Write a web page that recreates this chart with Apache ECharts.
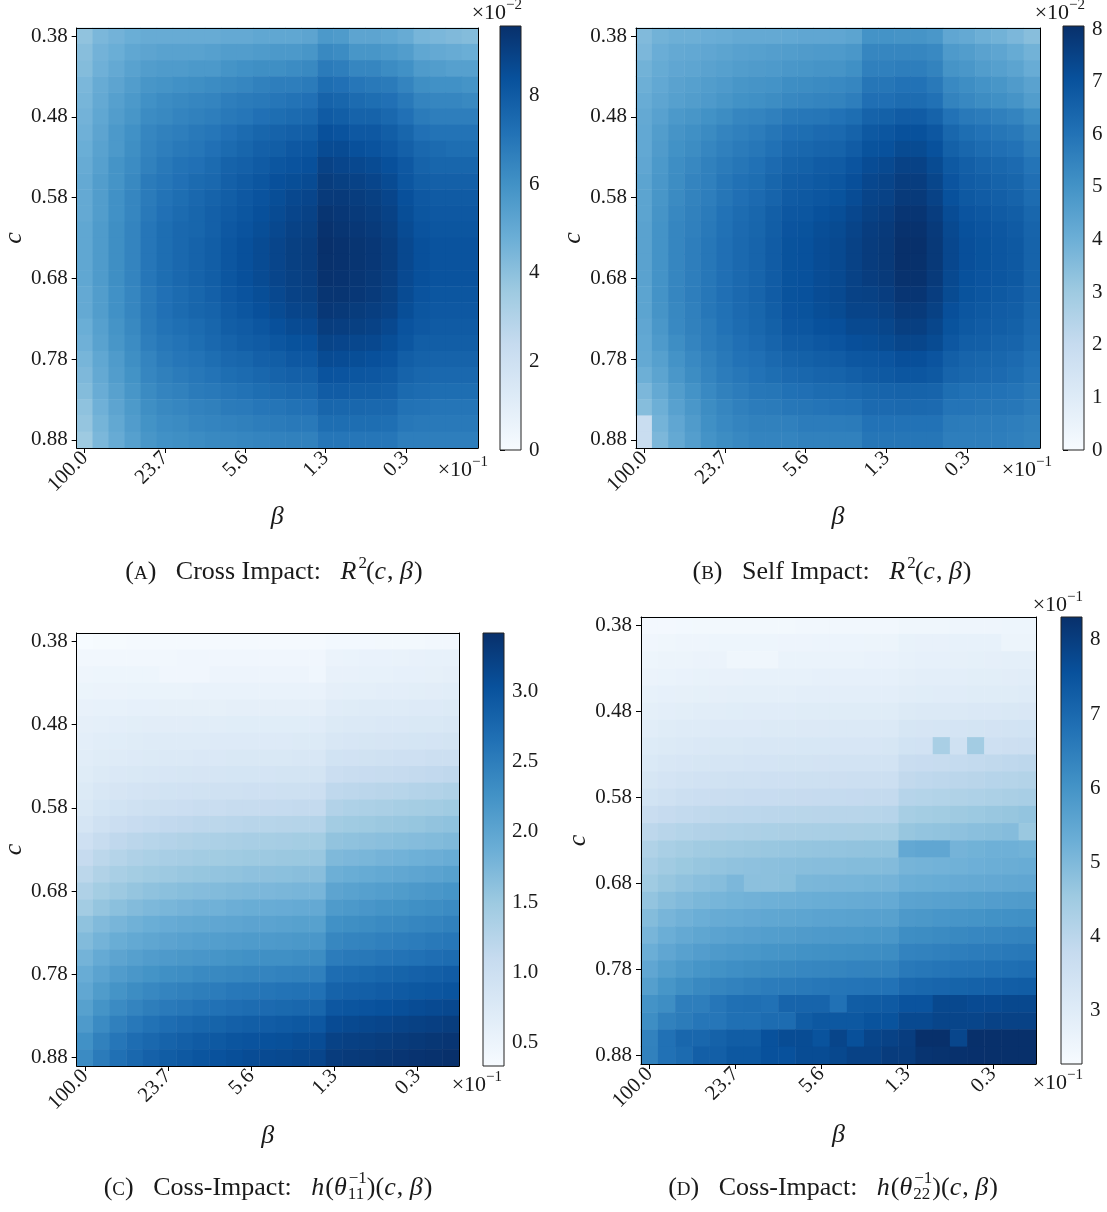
<!DOCTYPE html>
<html><head><meta charset="utf-8">
<script src="https://cdn.jsdelivr.net/npm/echarts@6/dist/echarts.min.js"></script>
<style>html,body{margin:0;padding:0;background:#fff}#c{width:1107px;height:1212px}</style>
</head><body><div id="c"></div>
<script>
// ---- tick labels ----
const cLabels = ['0.38','0.40','0.42','0.44','0.46','0.48','0.50','0.52','0.54','0.56','0.58','0.60','0.62','0.64','0.66','0.68','0.70','0.72','0.74','0.76','0.78','0.80','0.82','0.84','0.86','0.88'];
const betaTickLabels = ['100.0','23.7','5.6','1.3','0.3'];   // ×10^-1, one every 5 columns
const cbTicksA = [0,2,4,6,8];
const cbTicksB = [0,1,2,3,4,5,6,7,8];
const cbTicksC = [0.5,1.0,1.5,2.0,2.5,3.0];
const cbTicksD = [3,4,5,6,7,8];

// ---- (A) Cross Impact R^2(c,beta)  [x10^-2], rows c=0.38..0.88, cols beta ----
const crossR2 = [
[3.9,4.4,4.6,4.8,4.9,4.9,4.9,4.9,4.9,5.0,5.0,5.1,5.1,5.1,5.2,5.7,5.6,5.2,5.2,5.1,4.9,4.5,4.4,4.3,4.2],
[4.1,4.6,4.8,5.1,5.2,5.3,5.3,5.3,5.4,5.5,5.5,5.6,5.7,5.7,5.8,6.3,6.2,5.8,5.8,5.7,5.5,5.1,5.0,4.9,4.8],
[4.2,4.7,5.0,5.3,5.5,5.6,5.6,5.7,5.7,5.9,6.0,6.1,6.1,6.2,6.3,6.8,6.7,6.4,6.4,6.2,6.0,5.6,5.5,5.4,5.4],
[4.4,4.9,5.2,5.5,5.8,5.9,6.0,6.1,6.2,6.3,6.4,6.6,6.7,6.7,6.8,7.3,7.2,7.0,6.9,6.8,6.5,6.1,6.0,6.0,5.9],
[4.5,5.0,5.4,5.7,6.0,6.2,6.3,6.4,6.5,6.7,6.8,6.9,7.0,7.1,7.2,7.7,7.6,7.4,7.3,7.2,6.9,6.5,6.4,6.4,6.3],
[4.6,5.1,5.5,5.8,6.2,6.3,6.5,6.6,6.7,6.9,7.0,7.2,7.3,7.4,7.5,8.0,7.9,7.7,7.7,7.5,7.2,6.8,6.7,6.7,6.7],
[4.7,5.2,5.7,6.0,6.4,6.6,6.7,6.9,7.0,7.2,7.4,7.6,7.7,7.8,7.9,8.4,8.3,8.1,8.1,7.9,7.6,7.2,7.1,7.1,7.1],
[4.8,5.3,5.7,6.1,6.5,6.7,6.9,7.0,7.2,7.4,7.6,7.8,7.9,8.1,8.2,8.6,8.6,8.4,8.3,8.1,7.8,7.5,7.4,7.3,7.3],
[4.9,5.4,5.9,6.2,6.6,6.9,7.1,7.2,7.4,7.7,7.8,8.0,8.2,8.3,8.4,8.9,8.8,8.7,8.6,8.4,8.1,7.7,7.6,7.6,7.6],
[5.0,5.5,5.9,6.3,6.8,7.0,7.2,7.4,7.5,7.8,8.0,8.2,8.4,8.5,8.6,9.1,9.0,8.9,8.8,8.6,8.2,7.9,7.8,7.8,7.8],
[5.0,5.5,6.0,6.4,6.8,7.1,7.3,7.5,7.7,7.9,8.1,8.3,8.5,8.7,8.8,9.2,9.2,9.1,9.0,8.8,8.4,8.1,8.0,8.0,8.0],
[5.0,5.5,6.0,6.4,6.9,7.2,7.4,7.6,7.8,8.0,8.2,8.4,8.6,8.8,8.9,9.4,9.3,9.2,9.1,8.9,8.5,8.2,8.1,8.1,8.1],
[5.1,5.6,6.1,6.5,7.0,7.3,7.5,7.6,7.8,8.1,8.3,8.5,8.7,8.9,9.0,9.5,9.4,9.3,9.2,9.0,8.6,8.3,8.2,8.2,8.2],
[5.1,5.6,6.1,6.5,7.0,7.3,7.5,7.7,7.9,8.2,8.4,8.6,8.8,9.0,9.1,9.57,9.5,9.4,9.3,9.1,8.7,8.4,8.3,8.3,8.3],
[5.1,5.6,6.1,6.5,7.0,7.3,7.5,7.7,7.9,8.2,8.4,8.6,8.8,9.0,9.1,9.55,9.5,9.4,9.3,9.1,8.7,8.4,8.3,8.3,8.3],
[5.1,5.6,6.1,6.5,7.0,7.3,7.5,7.7,7.9,8.2,8.4,8.6,8.8,8.95,9.05,9.5,9.45,9.35,9.25,9.05,8.65,8.4,8.3,8.3,8.3],
[5.0,5.5,6.0,6.4,6.9,7.2,7.4,7.6,7.8,8.1,8.3,8.5,8.7,8.9,9.0,9.4,9.4,9.3,9.2,9.0,8.6,8.3,8.2,8.2,8.2],
[5.0,5.5,6.0,6.4,6.9,7.2,7.4,7.6,7.7,8.0,8.2,8.4,8.6,8.8,8.85,9.3,9.25,9.15,9.05,8.9,8.5,8.2,8.1,8.1,8.1],
[4.8,5.4,5.9,6.3,6.8,7.1,7.25,7.4,7.6,7.9,8.0,8.2,8.4,8.6,8.65,9.1,9.05,9.0,8.9,8.7,8.3,8.1,8.0,8.0,8.0],
[4.7,5.3,5.8,6.2,6.7,6.95,7.1,7.3,7.5,7.7,7.9,8.0,8.2,8.35,8.4,8.85,8.8,8.75,8.7,8.5,8.2,7.9,7.9,7.9,7.9],
[4.5,5.1,5.6,6.1,6.5,6.8,7.0,7.1,7.3,7.5,7.6,7.8,7.9,8.1,8.15,8.6,8.55,8.5,8.4,8.3,7.9,7.75,7.7,7.7,7.7],
[4.35,5.0,5.5,5.95,6.4,6.65,6.8,6.95,7.1,7.3,7.4,7.55,7.7,7.8,7.85,8.3,8.25,8.2,8.15,8.05,7.7,7.55,7.5,7.5,7.5],
[4.2,4.85,5.35,5.8,6.25,6.5,6.6,6.8,6.9,7.05,7.15,7.3,7.4,7.5,7.55,7.95,7.95,7.9,7.9,7.8,7.45,7.35,7.3,7.3,7.3],
[3.95,4.7,5.2,5.65,6.1,6.3,6.4,6.55,6.65,6.8,6.85,7.0,7.05,7.15,7.2,7.6,7.55,7.55,7.5,7.5,7.15,7.1,7.05,7.05,7.05],
[3.8,4.55,5.05,5.55,5.95,6.15,6.25,6.4,6.5,6.55,6.65,6.75,6.8,6.9,6.9,7.3,7.3,7.3,7.3,7.25,6.95,6.9,6.9,6.9,6.9],
[3.6,4.4,4.9,5.4,5.8,6.0,6.1,6.2,6.3,6.35,6.4,6.5,6.55,6.6,6.6,7.0,7.0,7.0,7.0,7.0,6.7,6.7,6.7,6.7,6.7]
];

// ---- (B) Self Impact R^2(c,beta)  [x10^-2] ----
const selfR2 = [
[3.6,3.9,4.0,4.0,4.05,4.1,4.2,4.2,4.2,4.25,4.3,4.3,4.3,4.4,5.0,5.0,4.95,4.95,4.85,4.3,4.2,4.0,3.9,3.7,3.45],
[3.7,4.05,4.2,4.25,4.3,4.4,4.5,4.55,4.6,4.65,4.7,4.75,4.75,4.85,5.4,5.4,5.4,5.4,5.3,4.75,4.65,4.45,4.35,4.15,3.9],
[3.9,4.15,4.3,4.35,4.45,4.55,4.65,4.7,4.75,4.85,4.9,4.95,4.95,5.1,5.6,5.6,5.65,5.65,5.5,4.95,4.85,4.65,4.55,4.4,4.1],
[4.0,4.25,4.45,4.55,4.65,4.75,4.9,4.95,5.0,5.15,5.2,5.25,5.3,5.4,5.9,5.9,6.0,6.0,5.8,5.3,5.15,5.0,4.9,4.7,4.45],
[4.1,4.35,4.55,4.65,4.75,4.9,5.05,5.1,5.2,5.35,5.4,5.45,5.5,5.65,6.1,6.1,6.2,6.2,6.05,5.5,5.35,5.2,5.1,4.95,4.65],
[4.2,4.5,4.8,4.9,5.05,5.2,5.4,5.45,5.6,5.8,5.85,5.9,6.0,6.15,6.5,6.55,6.7,6.7,6.5,6.0,5.8,5.7,5.6,5.45,5.15],
[4.25,4.65,4.95,5.1,5.25,5.45,5.6,5.7,5.9,6.1,6.15,6.25,6.3,6.5,6.8,6.9,7.05,7.05,6.85,6.35,6.15,6.0,5.9,5.8,5.5],
[4.25,4.7,5.05,5.2,5.4,5.6,5.75,5.85,6.05,6.3,6.35,6.45,6.5,6.7,7.0,7.05,7.25,7.25,7.05,6.55,6.35,6.2,6.1,6.0,5.7],
[4.3,4.8,5.15,5.35,5.55,5.75,5.9,6.05,6.25,6.5,6.55,6.7,6.75,6.95,7.2,7.3,7.5,7.5,7.25,6.8,6.6,6.45,6.35,6.25,5.95],
[4.4,4.85,5.2,5.45,5.6,5.85,6.05,6.15,6.4,6.65,6.7,6.8,6.9,7.1,7.35,7.45,7.65,7.65,7.4,6.95,6.7,6.6,6.5,6.4,6.1],
[4.4,4.9,5.25,5.5,5.65,5.9,6.1,6.25,6.45,6.75,6.8,6.9,7.0,7.2,7.45,7.5,7.75,7.75,7.5,7.05,6.8,6.7,6.6,6.5,6.2],
[4.4,4.95,5.35,5.55,5.75,6.0,6.2,6.35,6.6,6.85,6.9,7.05,7.15,7.35,7.55,7.65,7.9,7.9,7.65,7.2,6.95,6.85,6.75,6.65,6.35],
[4.45,5.0,5.4,5.6,5.8,6.05,6.25,6.4,6.65,6.95,7.0,7.15,7.25,7.45,7.65,7.75,8.0,8.0,7.75,7.3,7.05,6.95,6.85,6.75,6.45],
[4.45,5.0,5.4,5.65,5.85,6.1,6.3,6.45,6.7,7.0,7.05,7.2,7.3,7.5,7.7,7.8,8.05,8.05,7.8,7.35,7.1,7.0,6.9,6.8,6.5],
[4.45,5.0,5.4,5.65,5.85,6.1,6.3,6.45,6.7,7.0,7.05,7.2,7.3,7.5,7.7,7.8,8.05,8.04,7.8,7.35,7.1,7.0,6.9,6.8,6.5],
[4.45,5.0,5.4,5.65,5.85,6.1,6.3,6.45,6.7,7.0,7.05,7.2,7.3,7.5,7.65,7.75,8.0,8.0,7.75,7.3,7.05,6.95,6.9,6.8,6.5],
[4.4,5.0,5.4,5.65,5.85,6.1,6.3,6.45,6.7,7.0,7.05,7.2,7.3,7.5,7.55,7.65,7.9,7.9,7.65,7.25,7.0,6.9,6.8,6.7,6.45],
[4.4,4.95,5.35,5.6,5.85,6.05,6.25,6.4,6.65,6.95,7.0,7.15,7.25,7.45,7.45,7.55,7.75,7.75,7.55,7.1,6.9,6.8,6.7,6.65,6.35],
[4.3,4.85,5.3,5.55,5.75,6.0,6.2,6.35,6.55,6.85,6.9,7.05,7.1,7.3,7.3,7.4,7.6,7.6,7.4,7.0,6.8,6.7,6.65,6.55,6.3],
[4.25,4.75,5.15,5.45,5.7,5.9,6.1,6.25,6.45,6.7,6.75,6.85,6.95,7.1,7.15,7.25,7.4,7.4,7.25,6.85,6.65,6.6,6.5,6.45,6.2],
[4.2,4.55,5.0,5.3,5.55,5.8,6.0,6.1,6.3,6.5,6.55,6.65,6.7,6.85,6.9,6.95,7.1,7.1,6.95,6.6,6.45,6.4,6.35,6.25,6.05],
[4.0,4.4,4.85,5.2,5.45,5.7,5.85,6.0,6.15,6.3,6.35,6.45,6.5,6.6,6.75,6.8,6.9,6.9,6.8,6.45,6.35,6.3,6.25,6.15,5.95],
[3.7,4.2,4.65,5.0,5.3,5.55,5.7,5.85,5.9,6.05,6.1,6.2,6.2,6.3,6.4,6.45,6.5,6.5,6.45,6.15,6.05,6.05,6.0,5.95,5.8],
[3.5,4.0,4.5,4.85,5.2,5.4,5.6,5.7,5.75,5.85,5.9,5.95,6.0,6.05,6.25,6.25,6.3,6.3,6.25,5.95,5.95,5.9,5.9,5.85,5.7],
[1.9,3.85,4.3,4.7,5.1,5.3,5.45,5.55,5.55,5.6,5.7,5.7,5.7,5.75,6.0,6.0,6.0,6.0,6.0,5.75,5.7,5.7,5.7,5.65,5.55],
[1.9,3.7,4.2,4.6,5.0,5.2,5.35,5.45,5.45,5.45,5.55,5.55,5.55,5.55,5.9,5.9,5.9,5.9,5.9,5.65,5.65,5.65,5.65,5.6,5.5]
];

// ---- (C) h(theta_11^-1)(c,beta) ----
const hTheta11 = [
[0.34,0.36,0.36,0.37,0.37,0.37,0.37,0.37,0.37,0.37,0.37,0.37,0.37,0.37,0.37,0.40,0.40,0.40,0.41,0.41,0.41,0.42,0.42],
[0.42,0.43,0.43,0.43,0.43,0.43,0.44,0.44,0.44,0.44,0.44,0.44,0.44,0.44,0.44,0.52,0.53,0.54,0.54,0.55,0.56,0.57,0.58],
[0.47,0.48,0.48,0.48,0.48,0.44,0.44,0.44,0.49,0.49,0.49,0.49,0.49,0.49,0.45,0.56,0.56,0.57,0.58,0.59,0.59,0.60,0.61],
[0.51,0.52,0.52,0.53,0.53,0.53,0.53,0.54,0.54,0.54,0.54,0.54,0.54,0.54,0.54,0.61,0.62,0.63,0.64,0.64,0.65,0.66,0.67],
[0.56,0.57,0.58,0.59,0.59,0.60,0.60,0.60,0.60,0.61,0.61,0.61,0.61,0.61,0.61,0.69,0.70,0.71,0.71,0.72,0.73,0.74,0.75],
[0.61,0.63,0.64,0.65,0.66,0.66,0.66,0.67,0.67,0.68,0.68,0.68,0.68,0.68,0.69,0.75,0.76,0.77,0.78,0.78,0.79,0.80,0.81],
[0.64,0.67,0.68,0.70,0.71,0.71,0.72,0.72,0.73,0.73,0.74,0.74,0.74,0.75,0.75,0.82,0.83,0.84,0.85,0.86,0.87,0.88,0.89],
[0.67,0.70,0.72,0.74,0.75,0.76,0.77,0.78,0.78,0.79,0.80,0.80,0.80,0.81,0.81,0.92,0.93,0.94,0.96,0.97,0.98,1.00,1.01],
[0.70,0.75,0.78,0.80,0.82,0.83,0.84,0.85,0.86,0.87,0.87,0.88,0.89,0.89,0.89,1.03,1.05,1.07,1.09,1.10,1.12,1.14,1.16],
[0.75,0.81,0.85,0.88,0.90,0.92,0.93,0.94,0.95,0.96,0.97,0.98,0.99,0.99,1.00,1.17,1.19,1.21,1.23,1.25,1.28,1.30,1.32],
[0.79,0.87,0.92,0.96,0.99,1.01,1.03,1.05,1.06,1.08,1.09,1.10,1.11,1.12,1.12,1.30,1.33,1.35,1.37,1.40,1.42,1.44,1.47],
[0.86,0.96,1.02,1.07,1.11,1.14,1.16,1.19,1.20,1.22,1.24,1.25,1.26,1.27,1.28,1.44,1.47,1.49,1.51,1.53,1.55,1.58,1.60],
[0.98,1.09,1.16,1.21,1.25,1.28,1.31,1.33,1.35,1.37,1.39,1.40,1.41,1.43,1.43,1.58,1.60,1.62,1.64,1.66,1.68,1.70,1.72],
[1.10,1.20,1.27,1.32,1.36,1.39,1.41,1.44,1.45,1.47,1.49,1.50,1.51,1.52,1.53,1.72,1.75,1.77,1.80,1.82,1.85,1.87,1.90],
[1.20,1.31,1.38,1.43,1.47,1.50,1.53,1.55,1.57,1.59,1.61,1.62,1.63,1.65,1.65,1.86,1.89,1.92,1.95,1.97,2.00,2.03,2.06],
[1.32,1.43,1.50,1.56,1.60,1.63,1.66,1.68,1.70,1.72,1.74,1.75,1.76,1.78,1.78,2.01,2.04,2.07,2.10,2.13,2.16,2.19,2.22],
[1.44,1.56,1.63,1.69,1.74,1.77,1.80,1.83,1.84,1.87,1.89,1.90,1.91,1.93,1.94,2.14,2.17,2.20,2.23,2.25,2.28,2.31,2.34],
[1.60,1.71,1.78,1.84,1.88,1.91,1.94,1.96,1.98,2.00,2.02,2.03,2.04,2.06,2.06,2.27,2.30,2.32,2.35,2.37,2.40,2.43,2.46],
[1.70,1.81,1.89,1.95,1.99,2.02,2.05,2.08,2.10,2.12,2.14,2.15,2.16,2.18,2.19,2.39,2.42,2.44,2.47,2.49,2.52,2.55,2.58],
[1.81,1.93,2.01,2.07,2.12,2.15,2.18,2.20,2.22,2.25,2.27,2.28,2.29,2.31,2.32,2.52,2.55,2.57,2.60,2.62,2.65,2.68,2.71],
[1.90,2.03,2.12,2.19,2.24,2.28,2.31,2.35,2.37,2.39,2.41,2.43,2.45,2.46,2.47,2.69,2.72,2.75,2.78,2.81,2.84,2.87,2.90],
[1.97,2.13,2.23,2.32,2.38,2.42,2.46,2.50,2.52,2.56,2.58,2.60,2.62,2.64,2.65,2.82,2.85,2.87,2.90,2.92,2.95,2.97,3.00],
[2.06,2.23,2.34,2.43,2.50,2.54,2.58,2.62,2.65,2.68,2.71,2.73,2.75,2.77,2.78,2.96,2.98,3.01,3.03,3.06,3.09,3.11,3.14],
[2.15,2.34,2.47,2.56,2.64,2.69,2.74,2.78,2.81,2.85,2.88,2.90,2.92,2.95,2.96,3.10,3.13,3.15,3.17,3.20,3.22,3.24,3.27],
[2.27,2.46,2.59,2.69,2.76,2.82,2.86,2.91,2.94,2.98,3.01,3.03,3.05,3.08,3.09,3.21,3.23,3.25,3.27,3.29,3.32,3.34,3.36],
[2.34,2.53,2.66,2.76,2.84,2.89,2.94,2.99,3.02,3.06,3.09,3.11,3.13,3.15,3.17,3.28,3.30,3.32,3.34,3.36,3.38,3.40,3.42]
];

// ---- (D) h(theta_22^-1)(c,beta)  [x10^-1] ----
const hTheta22 = [
[2.40,2.41,2.42,2.43,2.43,2.44,2.44,2.44,2.44,2.45,2.45,2.45,2.45,2.45,2.45,2.52,2.53,2.53,2.54,2.55,2.56,2.57,2.58],
[2.50,2.53,2.54,2.56,2.57,2.57,2.58,2.58,2.59,2.59,2.60,2.60,2.60,2.61,2.61,2.72,2.73,2.74,2.75,2.76,2.76,2.62,2.62],
[2.58,2.61,2.62,2.64,2.65,2.52,2.52,2.52,2.67,2.67,2.68,2.68,2.68,2.69,2.69,2.77,2.78,2.79,2.80,2.82,2.83,2.84,2.85],
[2.65,2.68,2.70,2.72,2.73,2.74,2.75,2.76,2.76,2.77,2.78,2.78,2.78,2.79,2.79,2.86,2.87,2.88,2.89,2.90,2.91,2.92,2.93],
[2.75,2.78,2.80,2.82,2.83,2.84,2.85,2.86,2.86,2.87,2.88,2.88,2.88,2.89,2.89,2.95,2.96,2.97,2.98,2.99,3.00,3.01,3.02],
[2.85,2.89,2.91,2.93,2.95,2.96,2.97,2.98,2.98,2.99,3.00,3.00,3.00,3.01,3.01,3.10,3.12,3.13,3.14,3.16,3.17,3.19,3.20],
[2.95,2.99,3.02,3.04,3.06,3.07,3.08,3.09,3.10,3.11,3.11,3.12,3.13,3.13,3.13,3.28,3.30,3.32,3.34,3.37,3.39,3.41,3.43],
[3.05,3.10,3.13,3.16,3.18,3.19,3.21,3.22,3.23,3.24,3.24,3.25,3.26,3.26,3.27,3.43,3.45,4.33,3.50,4.45,3.55,3.58,3.60],
[3.15,3.21,3.26,3.29,3.31,3.33,3.35,3.36,3.37,3.38,3.39,3.40,3.41,3.42,3.42,3.68,3.72,3.76,3.80,3.84,3.88,3.91,3.95],
[3.28,3.36,3.41,3.45,3.48,3.50,3.51,3.53,3.54,3.56,3.57,3.58,3.59,3.60,3.60,3.87,3.91,3.95,3.99,4.04,4.08,4.11,4.15],
[3.43,3.52,3.59,3.63,3.67,3.70,3.72,3.74,3.76,3.77,3.79,3.80,3.81,3.82,3.83,4.08,4.12,4.16,4.20,4.24,4.28,4.31,4.35],
[3.70,3.79,3.85,3.89,3.93,3.95,3.97,3.99,4.01,4.03,4.04,4.05,4.06,4.07,4.08,4.38,4.43,4.47,4.52,4.57,4.62,4.65,4.70],
[3.95,4.05,4.12,4.17,4.21,4.24,4.26,4.29,4.30,4.32,4.34,4.35,4.36,4.37,4.38,4.65,4.70,4.74,4.78,4.83,4.87,4.91,4.60],
[4.20,4.33,4.41,4.48,4.53,4.56,4.59,4.62,4.64,4.67,4.69,4.70,4.72,4.73,4.74,5.45,5.50,5.50,5.15,5.20,5.25,5.25,5.20],
[4.35,4.49,4.58,4.65,4.71,4.75,4.78,4.81,4.83,4.86,4.88,4.90,4.92,4.93,4.94,5.13,5.16,5.19,5.22,5.26,5.29,5.32,5.35],
[4.50,4.65,4.75,4.83,4.89,5.05,4.80,4.80,4.85,5.06,5.08,5.10,5.12,5.14,5.15,5.30,5.33,5.36,5.39,5.42,5.45,5.47,5.50],
[4.70,4.86,4.97,5.06,5.12,5.17,5.21,5.25,5.27,5.30,5.33,5.35,5.37,5.39,5.40,5.58,5.61,5.64,5.67,5.71,5.74,5.77,5.80],
[4.93,5.10,5.21,5.30,5.37,5.41,5.45,5.49,5.52,5.55,5.58,5.60,5.62,5.64,5.65,5.85,5.89,5.93,5.96,6.00,6.04,6.07,6.10],
[5.10,5.29,5.42,5.51,5.59,5.64,5.69,5.73,5.76,5.80,5.83,5.85,5.87,5.90,5.91,6.13,6.17,6.21,6.25,6.29,6.33,6.36,6.40],
[5.30,5.50,5.64,5.74,5.82,5.88,5.92,5.97,6.00,6.04,6.08,6.10,6.12,6.15,6.16,6.38,6.42,6.46,6.50,6.54,6.58,6.61,6.65],
[5.50,5.71,5.86,5.97,6.05,6.11,6.16,6.21,6.25,6.29,6.32,6.35,6.38,6.40,6.42,6.63,6.67,6.71,6.75,6.79,6.83,6.86,6.90],
[5.70,5.95,6.12,6.25,6.35,6.42,6.48,6.54,6.58,6.63,6.67,6.70,6.73,6.76,6.78,6.99,7.04,7.08,7.12,7.16,7.20,7.24,7.28],
[6.02,6.14,6.50,6.50,6.68,6.83,6.85,6.80,7.10,7.10,7.10,6.80,7.28,7.30,7.35,7.50,7.50,7.77,7.77,7.71,7.71,7.77,7.77],
[6.14,6.44,6.56,6.68,6.68,6.83,6.83,6.92,6.92,7.28,7.40,7.40,7.40,7.52,7.52,7.74,7.74,7.83,7.83,7.83,7.89,7.89,7.89],
[6.41,6.80,7.04,7.04,7.16,7.28,7.28,7.56,7.68,7.68,7.52,7.83,7.59,7.83,7.89,8.01,8.31,8.31,7.80,8.31,8.31,8.31,8.31],
[6.44,6.80,6.95,7.22,7.22,7.40,7.40,7.56,7.56,7.68,7.68,7.77,7.89,7.89,8.04,8.04,8.22,8.25,8.28,8.30,8.31,8.31,8.31]
];

// ---- layout / styling ----
const BLUES = ['#f7fbff','#deebf7','#c6dbef','#9ecae1','#6baed6','#4292c6','#2171b5','#08519c','#08306b'];
const FONT = '"Liberation Serif", "DejaVu Serif", serif';
const TXT = '#1a1a1a';
const TICK_FS = 21;

const panels = [
  {data: crossR2,  vmin: 0,    vmax: 9.57, grid:{left:74, top:28,  width:404, height:420}, cb:{left:500, top:26,  width:21, height:424}, cbTicks: cbTicksA, cbFmt: v => String(v), xNameGap: 56},
  {data: selfR2,   vmin: 0,    vmax: 8.06, grid:{left:636, top:28, width:404, height:420}, cb:{left:1063, top:26, width:21, height:424}, cbTicks: cbTicksB, cbFmt: v => String(v), xNameGap: 56},
  {data: hTheta11, vmin: 0.33, vmax: 3.42, grid:{left:76, top:633, width:383, height:433}, cb:{left:483, top:633, width:21, height:433}, cbTicks: cbTicksC, cbFmt: v => v.toFixed(1), xNameGap: 57},
  {data: hTheta22, vmin: 2.28, vmax: 8.31, grid:{left:641, top:617, width:395, height:447}, cb:{left:1061, top:617, width:21, height:447}, cbTicks: cbTicksD, cbFmt: v => String(v), xNameGap: 58}
];

const grids = [], xAxes = [], yAxes = [], series = [], visualMaps = [];
const idx = n => Array.from({length: n}, (_, i) => String(i));
const lineBlack = {color: '#000', width: 1};

panels.forEach(p => {
  const nCols = p.data[0].length;
  const g = grids.length;
  grids.push({left: p.grid.left, top: p.grid.top, width: p.grid.width, height: p.grid.height});
  const xi = xAxes.length;
  xAxes.push({type: 'category', gridIndex: g, data: idx(nCols), position: 'bottom', z: 5,
    axisLine: {show: true, onZero: false, lineStyle: lineBlack},
    axisTick: {show: true, interval: 4, alignWithLabel: true, length: 5, lineStyle: lineBlack},
    axisLabel: {interval: 4, rotate: 45, margin: 7, fontFamily: FONT, fontSize: TICK_FS, color: TXT,
      formatter: (v, i) => betaTickLabels[Math.round(i / 5)]},
    splitLine: {show: false},
    name: 'β', nameLocation: 'middle', nameGap: p.xNameGap,
    nameTextStyle: {fontFamily: FONT, fontStyle: 'italic', fontSize: 26, color: TXT}});
  xAxes.push({type: 'category', gridIndex: g, data: idx(nCols), position: 'top', z: 5,
    axisLine: {show: true, onZero: false, lineStyle: lineBlack}, axisTick: {show: false}, axisLabel: {show: false}, splitLine: {show: false}});
  const yi = yAxes.length;
  yAxes.push({type: 'category', gridIndex: g, data: cLabels, inverse: true, position: 'left', z: 5,
    axisLine: {show: true, onZero: false, lineStyle: lineBlack},
    axisTick: {show: true, interval: 4, alignWithLabel: true, length: 5, lineStyle: lineBlack},
    axisLabel: {interval: 4, margin: 9, fontFamily: FONT, fontSize: TICK_FS, color: TXT},
    splitLine: {show: false},
    name: 'c', nameLocation: 'middle', nameGap: 47, nameRotate: 90,
    nameTextStyle: {fontFamily: FONT, fontStyle: 'italic', fontSize: 26, color: TXT}});
  yAxes.push({type: 'category', gridIndex: g, data: cLabels, inverse: true, position: 'right', z: 5,
    axisLine: {show: true, onZero: false, lineStyle: lineBlack}, axisTick: {show: false}, axisLabel: {show: false}, splitLine: {show: false}});
  const si = series.length;
  series.push({type: 'heatmap', xAxisIndex: xi, yAxisIndex: yi, z: 1, progressive: 0,
    emphasis: {disabled: true}, itemStyle: {borderWidth: 0},
    data: p.data.flatMap((row, r) => row.map((v, c) => [c, r, v]))});
  visualMaps.push({type: 'continuous', show: false, seriesIndex: si, dimension: 2,
    min: p.vmin, max: p.vmax, inRange: {color: BLUES}});

  // colour bar
  const cg = grids.length;
  grids.push({left: p.cb.left, top: p.cb.top, width: p.cb.width, height: p.cb.height});
  const cxi = xAxes.length;
  xAxes.push({type: 'value', gridIndex: cg, min: 0, max: 1, show: false});
  const cyi = yAxes.length;
  yAxes.push({type: 'value', gridIndex: cg, min: p.vmin, max: p.vmax, position: 'right',
    axisLine: {show: false},
    axisTick: {show: true, length: 5, customValues: p.cbTicks, lineStyle: lineBlack},
    axisLabel: {customValues: p.cbTicks, formatter: p.cbFmt, margin: 8, fontFamily: FONT, fontSize: TICK_FS, color: TXT},
    splitLine: {show: false}});
  series.push({type: 'custom', xAxisIndex: cxi, yAxisIndex: cyi, silent: true, z: 3,
    data: [[0, p.vmin, 1, p.vmax]],
    renderItem: (params, api) => {
      const tl = api.coord([api.value(0), api.value(3)]);
      const br = api.coord([api.value(2), api.value(1)]);
      return {type: 'rect',
        shape: {x: tl[0], y: tl[1], width: br[0] - tl[0], height: br[1] - tl[1]},
        style: {fill: new echarts.graphic.LinearGradient(0, 0, 0, 1,
          BLUES.slice().reverse().map((c, i) => ({offset: i / 8, color: c}))),
          stroke: '#222', lineWidth: 1}};
    }});
});

// ---- texts ----
const RICH = {
  sup: {fontFamily: FONT, fontSize: 15, lineHeight: 16, verticalAlign: 'top', fill: TXT}
};
function mult(x, y, text) {
  return {type: 'text', x: x, y: y, silent: true, z: 10,
    style: {text: text, fontFamily: FONT, fontSize: 22, lineHeight: 30, fill: TXT,
      align: 'right', verticalAlign: 'middle', rich: RICH}};
}
// caption builder: pieces measured with canvas so super/subscripts can be stacked
const mctx = document.createElement('canvas').getContext('2d');
function mw(t, size, it) { mctx.font = (it ? 'italic ' : 'normal ') + 'normal ' + size + 'px ' + FONT; return mctx.measureText(t).width; }
function caption(cx, cy, parts) {
  const B = 26, S = 17, SC = 19;
  const items = parts.map(([t, k]) => {
    if (k === 'ss') return {t, k, w: Math.max(mw(t[0], S), mw(t[1], S)) + 1};
    const size = k === 'sc' ? SC : (k === 'sup' || k === 'sub') ? S : B;
    return {t, k, size, w: mw(t, size, k === 'i') + (k === 'i' ? 1 : 0)};
  });
  const total = items.reduce((a, b) => a + b.w, 0);
  let x = cx - total / 2;
  const out = [];
  const mk = (tx, ty, t, size, it) => ({type: 'text', x: tx, y: ty, silent: true, z: 10,
    style: {text: t, fontFamily: FONT, fontSize: size, fontStyle: it ? 'italic' : 'normal', fill: TXT, align: 'left', verticalAlign: 'middle'}});
  items.forEach(it => {
    if (it.k === 'ss') { out.push(mk(x + 1, cy - 9, it.t[0], S)); out.push(mk(x, cy + 7, it.t[1], S)); }
    else if (it.k === 'sup') out.push(mk(x + 1, cy - 8, it.t, S));
    else if (it.k === 'sub') out.push(mk(x, cy + 7, it.t, S));
    else if (it.k === 'sc') out.push(mk(x, cy + 2, it.t, SC));
    else out.push(mk(x, cy, it.t, B, it.k === 'i'));
    x += it.w;
  });
  return out;
}
const capA = [['(','n'],['A','sc'],[')','n'],['   Cross Impact:   ','n'],['R','i'],['2','sup'],['(','n'],['c','i'],[', ','n'],['β','i'],[')','n']];
const capB = [['(','n'],['B','sc'],[')','n'],['   Self Impact:   ','n'],['R','i'],['2','sup'],['(','n'],['c','i'],[', ','n'],['β','i'],[')','n']];
const capC = [['(','n'],['C','sc'],[')','n'],['   Coss-Impact:   ','n'],['h','i'],['(','n'],['θ','i'],[['−1','11'],'ss'],[')(','n'],['c','i'],[', ','n'],['β','i'],[')','n']];
const capD = [['(','n'],['D','sc'],[')','n'],['   Coss-Impact:   ','n'],['h','i'],['(','n'],['θ','i'],[['−1','22'],'ss'],[')(','n'],['c','i'],[', ','n'],['β','i'],[')','n']];

const graphics = [
  mult(488, 470, '×10{sup|−1}'),
  mult(1052, 470, '×10{sup|−1}'),
  mult(502, 1085, '×10{sup|−1}'),
  mult(1083, 1083, '×10{sup|−1}'),
  mult(522, 13, '×10{sup|−2}'),
  mult(1085, 13, '×10{sup|−2}'),
  mult(1083, 605, '×10{sup|−1}'),
  ...caption(274, 572, capA),
  ...caption(832, 572, capB),
  ...caption(268, 1188, capC),
  ...caption(833, 1188, capD)
];

const chart = echarts.init(document.getElementById('c'), null, {renderer: 'canvas', width: 1107, height: 1212});
chart.setOption({
  animation: false,
  backgroundColor: '#ffffff',
  textStyle: {fontFamily: FONT},
  grid: grids, xAxis: xAxes, yAxis: yAxes, visualMap: visualMaps, series: series,
  graphic: graphics
});
</script>
</body></html>
